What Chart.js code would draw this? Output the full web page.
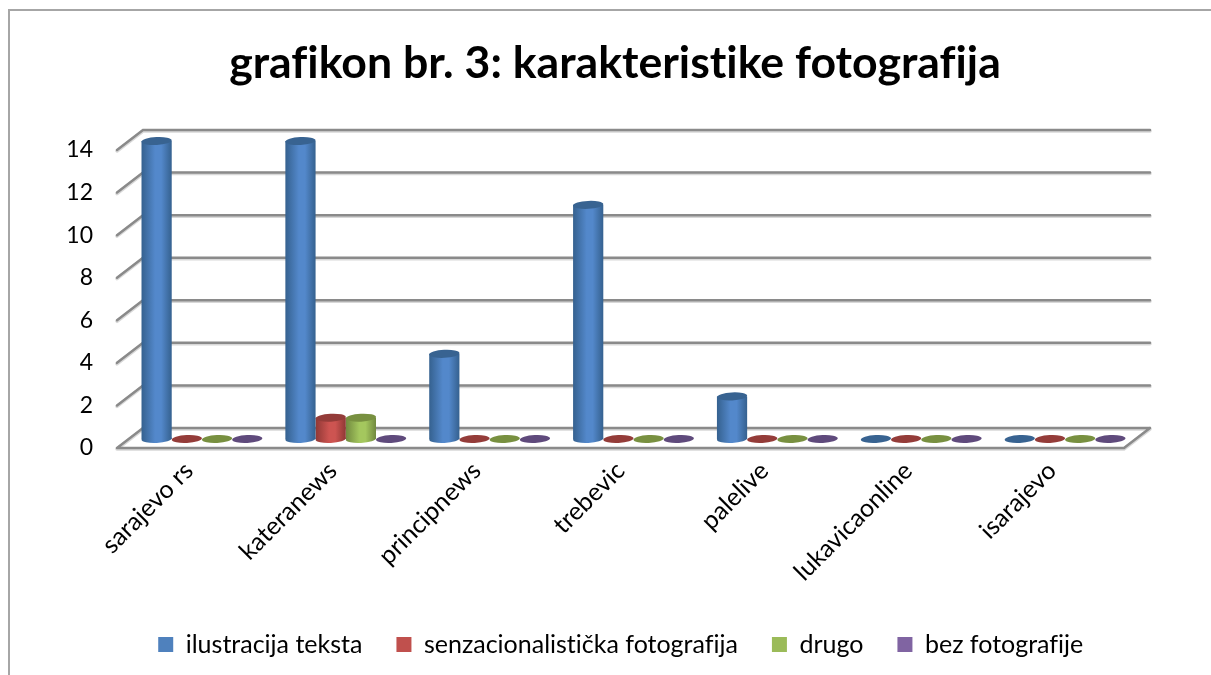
<!DOCTYPE html>
<html><head><meta charset="utf-8">
<style>html,body{margin:0;padding:0;background:#fff}canvas{display:block}</style>
<script src="https://cdn.jsdelivr.net/npm/chart.js@4"></script></head>
<body><canvas id="c" width="1211" height="675"></canvas>
<script>
const titleText = 'grafikon br. 3: karakteristike fotografija';
const categories = ['sarajevo rs','kateranews','principnews','trebevic','palelive','lukavicaonline','isarajevo'];
const seriesNames = ['ilustracija teksta','senzacionalistička fotografija','drugo','bez fotografije'];
const ilustracija = [14,14,4,11,2,0,0];
const senzacionalisticka = [0,1,0,0,0,0,0];
const drugo = [0,1,0,0,0,0,0];
const bezFotografije = [0,0,0,0,0,0,0];
const yTicks = [0,2,4,6,8,10,12,14];
const seriesValues = [ilustracija, senzacionalisticka, drugo, bezFotografije];
const legendColors = ['#4f81bd','#c0504d','#9bbb59','#8064a2'];
const edgeColors = ['#35618f','#8f3835','#71893f','#5a4578'];
const midColors = ['#5388cb','#cd5451','#a4c75e','#8a6cae'];
const topColors = ['#386391','#943c39','#789040','#5f4a7c'];
const FONT = 'Lato, Carlito, sans-serif';
const DX = 13, DY = -9, RY = 4, CAT_PCT = 0.84, TILT = -0.05;

function barGradient(chart, dsIndex, i){
  const x = chart.scales.x;
  const step = (x.right - x.left) / categories.length;
  const w = step * CAT_PCT / seriesValues.length;
  const cx = x.getPixelForValue(i) + (dsIndex - 1.5) * w;
  const g = chart.ctx.createLinearGradient(cx - w/2, 0, cx + w/2, 0);
  g.addColorStop(0, edgeColors[dsIndex]);
  g.addColorStop(0.45, midColors[dsIndex]);
  g.addColorStop(0.65, midColors[dsIndex]);
  g.addColorStop(1, edgeColors[dsIndex]);
  return g;
}

const frame3d = {
  id:'frame3d',
  beforeDraw(chart){
    const c = chart.ctx;
    c.textRendering = 'optimizeSpeed';
    c.save();
    c.strokeStyle = '#a6a6a6'; c.lineWidth = 2;
    c.beginPath(); c.moveTo(9,675); c.lineTo(9,10); c.lineTo(1211,10); c.stroke();
    c.restore();
  },
  beforeDatasetsDraw(chart){
    const c = chart.ctx, y = chart.scales.y, a = chart.chartArea;
    const wx = 26, wy = -20;
    c.save();
    c.lineCap = 'round';
    const draw = (color, width, off) => {
      c.strokeStyle = color; c.lineWidth = width;
      c.beginPath();
      yTicks.forEach(v => {
        const p = y.getPixelForValue(v) + off;
        c.moveTo(a.left, p); c.lineTo(a.left + wx, p + wy); c.lineTo(a.right + wx, p + wy);
      });
      const f = y.getPixelForValue(0) + off;
      c.moveTo(a.left, f); c.lineTo(a.right, f); c.lineTo(a.right + wx, f + wy);
      c.stroke();
    };
    draw('#d8d8d8', 3.5, 1);
    draw('#8a8a8a', 2.5, 0);
    c.restore();
    c.save();
    c.translate(DX, DY);
  },
  afterDatasetDraw(chart, args){
    const c = chart.ctx, d = args.index;
    args.meta.data.forEach((el, i) => {
      const p = el.getProps(['x','y','base','width'], true);
      const rx = p.width / 2;
      c.save();
      c.fillStyle = barGradient(chart, d, i);
      if (p.base - p.y > 0.5) {
        c.beginPath(); c.ellipse(p.x, p.base, rx, RY, TILT, 0, Math.PI*2); c.fill();
      }
      c.fillStyle = topColors[d];
      c.beginPath(); c.ellipse(p.x, p.y, rx, RY, TILT, 0, Math.PI*2); c.fill();
      c.restore();
    });
  },
  afterDatasetsDraw(chart){ chart.ctx.restore(); }
};

new Chart(document.getElementById('c'), {
  type:'bar',
  plugins:[frame3d],
  data:{
    labels:categories,
    datasets:seriesNames.map((name, d) => ({
      label:name,
      data:seriesValues[d],
      clip:false,
      barPercentage:1,
      categoryPercentage:CAT_PCT,
      borderWidth:0,
      backgroundColor:ctx => ctx.dataIndex === undefined ? legendColors[d] : barGradient(ctx.chart, d, ctx.dataIndex)
    }))
  },
  options:{
    responsive:false,
    animation:false,
    layout:{padding:{left:19,right:0,top:0,bottom:8}},
    plugins:{
      tooltip:{enabled:false},
      title:{display:true,text:titleText,color:'#000',font:{family:FONT,size:44.6,weight:'bold'},padding:{top:37,bottom:59.5},fullSize:true},
      legend:{position:'bottom',fullSize:false,
        labels:{color:'#000',font:{family:FONT,size:25},boxWidth:15,boxHeight:15,padding:34,
          generateLabels:chart => seriesNames.map((n,i) => ({text:n,fillStyle:legendColors[i],strokeStyle:legendColors[i],lineWidth:0,datasetIndex:i,hidden:false}))}}
    },
    scales:{
      x:{grid:{display:false,drawTicks:false},border:{display:false},
        ticks:{color:'#000',font:{family:FONT,size:25},minRotation:45,maxRotation:45,padding:8,autoSkip:false},
        afterFit(s){s.height=150;}},
      y:{min:0,max:14,grid:{display:false,drawTicks:false},border:{display:false},
        ticks:{color:'#000',font:{family:FONT,size:23},stepSize:2,padding:24},
        afterFit(s){s.width=98;}},
      y2:{position:'right',min:0,max:14,grid:{display:false,drawTicks:false},border:{display:false},
        ticks:{display:false},afterFit(s){s.width=87;}}
    }
  }
});
</script></body></html>
